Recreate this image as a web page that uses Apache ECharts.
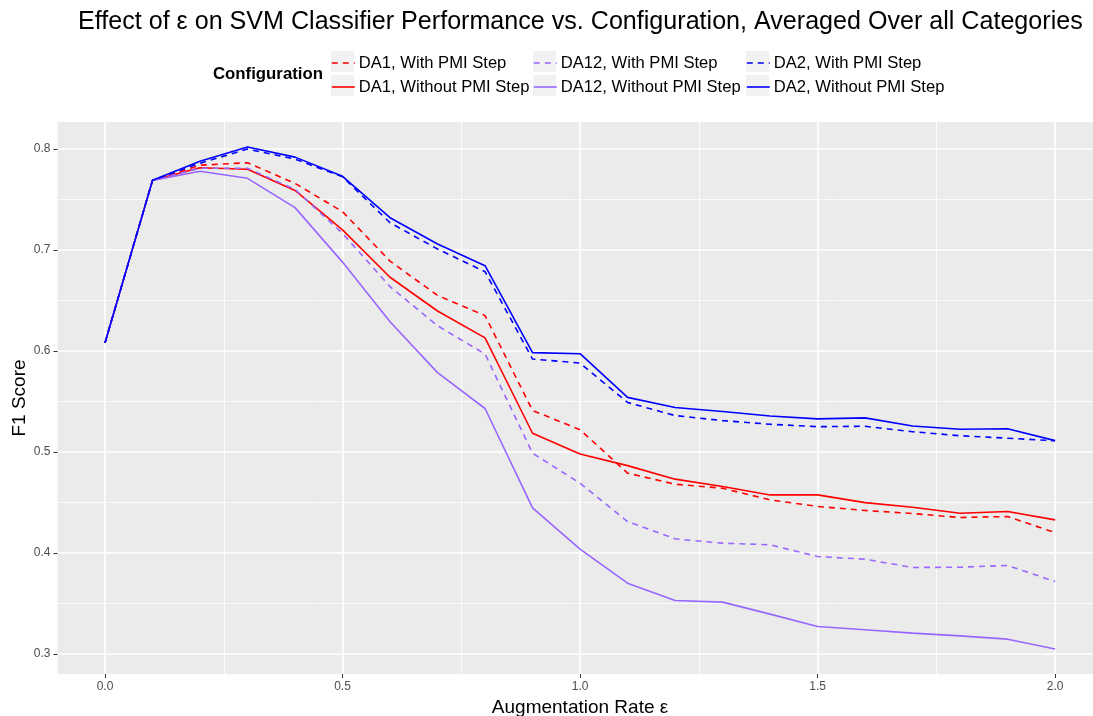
<!DOCTYPE html>
<html><head><meta charset="utf-8">
<script src="https://cdn.jsdelivr.net/npm/echarts@6/dist/echarts.min.js"></script>
<style>html,body{margin:0;padding:0;background:#fff}#c{width:1093px;height:716px}</style>
</head><body><div id="c"></div>
<script>
const rates = [0.0,0.1,0.2,0.3,0.4,0.5,0.6,0.7,0.8,0.9,1.0,1.1,1.2,1.3,1.4,1.5,1.6,1.7,1.8,1.9,2.0];
const da1With     = [0.608,0.769,0.784,0.7865,0.766,0.738,0.689,0.655,0.635,0.541,0.522,0.479,0.468,0.464,0.4525,0.446,0.442,0.439,0.435,0.436,0.420];
const da1Without  = [0.608,0.769,0.7815,0.780,0.759,0.720,0.673,0.6396,0.613,0.5185,0.498,0.4864,0.473,0.4657,0.4574,0.4574,0.4498,0.4452,0.4393,0.441,0.4327];
const da12With    = [0.608,0.769,0.781,0.781,0.760,0.7165,0.6637,0.625,0.597,0.4987,0.469,0.431,0.4139,0.4096,0.408,0.3964,0.3937,0.3855,0.3858,0.3875,0.3716];
const da12Without = [0.608,0.769,0.778,0.771,0.742,0.688,0.629,0.5785,0.543,0.4446,0.4037,0.370,0.3528,0.3512,0.3393,0.327,0.3238,0.3205,0.3178,0.3145,0.3047];
const da2With     = [0.608,0.769,0.786,0.800,0.790,0.7725,0.727,0.701,0.6785,0.592,0.588,0.549,0.536,0.531,0.5274,0.525,0.5254,0.520,0.516,0.5136,0.511];
const da2Without  = [0.608,0.769,0.788,0.802,0.792,0.773,0.732,0.706,0.6845,0.5983,0.5973,0.554,0.544,0.540,0.5356,0.5327,0.5337,0.5257,0.5224,0.523,0.5112];
const seriesNames = ['DA1, With PMI Step','DA1, Without PMI Step','DA12, With PMI Step','DA12, Without PMI Step','DA2, With PMI Step','DA2, Without PMI Step'];
const xTickValues = [0.0,0.5,1.0,1.5,2.0];
const yTickValues = [0.3,0.4,0.5,0.6,0.7,0.8];
const titleText = 'Effect of \u03b5 on SVM Classifier Performance vs. Configuration, Averaged Over all Categories';
const xTitle = 'Augmentation Rate \u03b5';
const yTitle = 'F1 Score';
const legendTitle = 'Configuration';

const seriesValues = [da1With, da1Without, da12With, da12Without, da2With, da2Without];
const seriesColors = ['#ff0000','#ff0000','#9966ff','#9966ff','#0000ff','#0000ff'];
const seriesDashed = [true,false,true,false,true,false];
const FONT = 'Liberation Sans, Arial, sans-serif';

function cycle(idx){ const a=[]; for(let i=0;i<10;i++) a.push(i===idx?'#ffffff':'rgba(0,0,0,0)'); return a; }

const chart = echarts.init(document.getElementById('c'), null, {renderer:'canvas'});
const series = seriesNames.map((n,i)=>({
  name:n, type:'line', xAxisIndex:0, yAxisIndex:0,
  symbol:'none', showSymbol:false, animation:false, silent:true,
  data: rates.map((x,j)=>[x, seriesValues[i][j]]),
  itemStyle:{color:seriesColors[i]},
  lineStyle:{color:seriesColors[i], width:1.6, type: seriesDashed[i]?[6,5]:'solid'},
  z: 2+i
}));

const keyX = [331,331,533,533,746,746];
const keyY = [51,75,51,75,51,75];
const legends = seriesNames.map((n,i)=>({
  orient:'horizontal', padding:0, itemWidth:23, itemHeight:21, left:keyX[i], top:keyY[i]+3.5,
  textStyle:{fontSize:16.6, fontFamily:FONT, color:'#000', padding:[0,0,0,-1]},
  itemStyle:{opacity:0}, lineStyle:{width:1.6}, selectedMode:false, data:[n]
}));
const keyRects = keyX.map((x,i)=>({type:'rect', shape:{x:x,y:keyY[i],width:23,height:21}, style:{fill:'#f2f2f2'}, z:-10, silent:true}));

chart.setOption({
  animation:false,
  backgroundColor:'#ffffff',
  title:{text:titleText, left:78, top:10, padding:0, textStyle:{fontSize:25.1, fontWeight:'normal', color:'#000', fontFamily:FONT}},
  legend: legends,
  graphic:[
    ...keyRects,
    {type:'text', x:213, y:74, style:{text:legendTitle, fontSize:16.8, fontWeight:'bold', fontFamily:FONT, fill:'#000', verticalAlign:'middle'}, silent:true}
  ],
  grid:{left:57.5, right:-9.6, top:122, bottom:42, show:true, backgroundColor:'#ebebeb', borderWidth:0, containLabel:false, outerBoundsMode:'none'},
  xAxis:[
    {type:'value', min:-0.1, max:2.1, interval:0.05, position:'bottom',
     name:xTitle, nameLocation:'middle', nameGap:23, nameTextStyle:{fontSize:19, color:'#000', fontFamily:FONT},
     axisLine:{show:false, onZero:false},
     axisTick:{show:true, length:4, lineStyle:{color:'#333333', width:1}, customValues:xTickValues},
     axisLabel:{show:true, customValues:xTickValues, formatter:v=>Number(v).toFixed(1), fontSize:12, color:'#4d4d4d', fontFamily:FONT, margin:7},
     splitLine:{show:true, lineStyle:{color:'#ffffff', width:1.6}}},
    {type:'value', min:-0.1, max:2.1, interval:0.05, position:'top',
     axisLine:{show:false, onZero:false}, axisTick:{show:false}, axisLabel:{show:false},
     splitLine:{show:true, lineStyle:{color:cycle(7), width:0.8}}}
  ],
  yAxis:[
    {type:'value', min:0.28, max:0.8268, interval:0.01, position:'left',
     name:yTitle, nameLocation:'middle', nameGap:28.5, nameRotate:90, nameMoveOverlap:false, nameTextStyle:{fontSize:19, color:'#000', fontFamily:FONT},
     axisLine:{show:false, onZero:false},
     axisTick:{show:true, length:4, lineStyle:{color:'#333333', width:1}, customValues:yTickValues},
     axisLabel:{show:true, customValues:yTickValues, formatter:v=>Number(v).toFixed(1), fontSize:12, color:'#4d4d4d', fontFamily:FONT, margin:7},
     splitLine:{show:true, lineStyle:{color:'#ffffff', width:1.6}}},
    {type:'value', min:0.28, max:0.8268, interval:0.01, position:'right',
     axisLine:{show:false, onZero:false}, axisTick:{show:false}, axisLabel:{show:false},
     splitLine:{show:true, lineStyle:{color:cycle(7), width:0.8}}}
  ],
  series: series
});
</script></body></html>
